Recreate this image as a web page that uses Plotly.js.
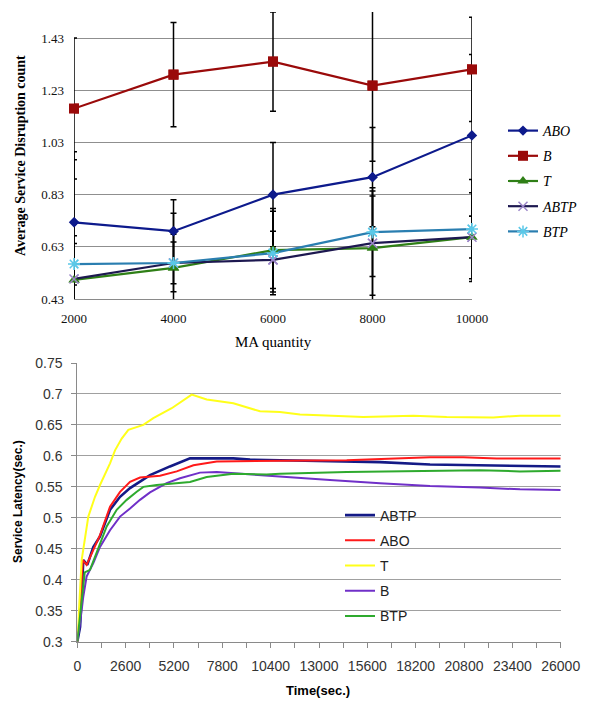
<!DOCTYPE html>
<html>
<head>
<meta charset="utf-8">
<script src="https://cdn.plot.ly/plotly-3.0.1.min.js"></script>
<style>
html,body{margin:0;padding:0;background:#fff;}
#chart{width:592px;height:703px;}
</style>
</head>
<body>
<div id="chart"></div>
<script>
// ---------- Top chart data ----------
const maQuantity = [2000, 4000, 6000, 8000, 10000];
const topNames = ['ABO', 'B', 'T', 'ABTP', 'BTP'];
const aboDisruption  = [0.724, 0.690, 0.830, 0.897, 1.057];
const bDisruption    = [1.160, 1.290, 1.340, 1.248, 1.310];
const tDisruption    = [0.503, 0.549, 0.617, 0.625, 0.667];
const abtpDisruption = [0.507, 0.568, 0.580, 0.644, 0.667];
const btpDisruption  = [0.564, 0.568, 0.606, 0.686, 0.698];
const aboErr  = [0.24, 0.12, 0.20, 0.19, 0.31];
const bErr    = [0.27, 0.20, 0.19, 0.29, 0.20];
const tErr    = [0.14, 0.21, 0.16, 0.20, 0.17];
const abtpErr = [0.165, 0.08, 0.11, 0.20, 0.08];
const btpErr  = [0.43, 0.11, 0.16, 0.17, 0.19];
const topYTicks = ['0.43', '0.63', '0.83', '1.03', '1.23', '1.43'];

// ---------- Bottom chart data ----------
const bottomXLabels = ['0','2600','5200','7800','10400','13000','15600','18200','20800','23400','26000'];
const bottomYTicks = ['0.3','0.35','0.4','0.45','0.5','0.55','0.6','0.65','0.7','0.75'];

const tTime = [0, 236, 592, 952, 1221, 1760, 2028, 2388, 2747, 3551, 4089, 5078, 6153, 6960, 8392, 9826, 10900, 11977, 12693, 15383, 18072, 19866, 22375, 23810, 26000];
const tLat  = [0.300, 0.432, 0.502, 0.534, 0.553, 0.588, 0.609, 0.628, 0.642, 0.650, 0.661, 0.677, 0.699, 0.691, 0.685, 0.672, 0.671, 0.667, 0.666, 0.663, 0.665, 0.663, 0.662, 0.665, 0.665];

const abtpTime = [0, 150, 323, 538, 861, 1221, 1760, 2298, 2836, 3373, 3910, 4985, 6061, 8392, 9290, 10900, 13590, 16280, 18970, 21660, 23451, 26000];
const abtpLat  = [0.300, 0.324, 0.432, 0.424, 0.453, 0.470, 0.513, 0.534, 0.548, 0.558, 0.569, 0.583, 0.596, 0.596, 0.594, 0.593, 0.592, 0.590, 0.586, 0.585, 0.584, 0.583];

const aboTime = [0, 150, 290, 500, 1221, 1760, 2298, 2836, 3373, 3910, 4447, 5347, 6245, 7500, 10000, 10900, 14490, 17180, 18970, 20762, 22555, 26000];
const aboLat  = [0.300, 0.350, 0.432, 0.424, 0.472, 0.518, 0.542, 0.558, 0.565, 0.567, 0.568, 0.575, 0.585, 0.591, 0.591, 0.592, 0.593, 0.596, 0.598, 0.598, 0.596, 0.596];

const btpTime = [0, 150, 400, 683, 1042, 1580, 2119, 2657, 3195, 3551, 4268, 5167, 6061, 6960, 8392, 10184, 10900, 14490, 18072, 21660, 23810, 26000];
const btpLat  = [0.300, 0.340, 0.412, 0.416, 0.443, 0.486, 0.513, 0.529, 0.542, 0.550, 0.553, 0.556, 0.558, 0.566, 0.571, 0.570, 0.571, 0.574, 0.5755, 0.577, 0.575, 0.576];

const bTime = [0, 150, 323, 500, 861, 1221, 1760, 2298, 2836, 3373, 3910, 4805, 5526, 6600, 7500, 8392, 10184, 10900, 13590, 16280, 18970, 21660, 23810, 26000];
const bLat  = [0.300, 0.330, 0.373, 0.405, 0.427, 0.453, 0.480, 0.502, 0.515, 0.529, 0.541, 0.556, 0.564, 0.573, 0.574, 0.572, 0.568, 0.566, 0.561, 0.556, 0.5515, 0.549, 0.546, 0.545];

// ---------- Build ----------
const W = 592, H = 703;
const px = x => x / W;
const py = y => 1 - y / H;

const serif = 'Liberation Serif';
const sans = 'Liberation Sans';

function errBar(arr) {
  return {type: 'data', array: arr, visible: true, color: '#000', thickness: 1.5, width: 3};
}

const topSpecs = [
  {name: 'ABO', y: aboDisruption, e: aboErr, line: '#0D1A8C', marker: {symbol: 'diamond', size: 8, color: '#0D1A8C'}},
  {name: 'B', y: bDisruption, e: bErr, line: '#9A0A0A', marker: {symbol: 'square', size: 10, color: '#9A0A0A'}},
  {name: 'T', y: tDisruption, e: tErr, line: '#2F7F16', marker: {symbol: 'triangle-up', size: 10, color: '#2F7F16'}},
  {name: 'ABTP', y: abtpDisruption, e: abtpErr, line: '#1D1850', marker: {symbol: 'x-thin', size: 9, color: '#9B85C8', line: {color: '#9B85C8', width: 1.5}}},
  {name: 'BTP', y: btpDisruption, e: btpErr, line: '#2A7EB0', marker: {symbol: 'asterisk', size: 10, color: '#5BC8E8', line: {color: '#5BC8E8', width: 1.5}}}
];

const traces = [];
// lines + error bars (clipped to the plot area)
topSpecs.forEach((s, i) => traces.push({
  type: 'scatter', mode: 'lines+markers', name: '<i>' + s.name + '</i>',
  x: maQuantity, y: s.y, xaxis: 'x', yaxis: 'y',
  line: {color: s.line, width: 2.2},
  marker: s.marker,
  error_y: errBar(s.e),
  cliponaxis: true,
  legend: 'legend', legendgroup: 'top' + i
}));
// markers overlay (not clipped at the plot edges)
topSpecs.forEach((s, i) => traces.push({
  type: 'scatter', mode: 'markers', name: s.name,
  x: maQuantity, y: s.y, xaxis: 'x', yaxis: 'y',
  marker: s.marker, cliponaxis: false, showlegend: false,
  legend: 'legend', legendgroup: 'top' + i
}));

const bottomSpecs = [
  {name: 'ABTP', x: abtpTime, y: abtpLat, color: '#141A86', width: 2.6},
  {name: 'ABO', x: aboTime, y: aboLat, color: '#FF1A1A', width: 2},
  {name: 'T', x: tTime, y: tLat, color: '#FFFF1A', width: 2},
  {name: 'B', x: bTime, y: bLat, color: '#7030C8', width: 2},
  {name: 'BTP', x: btpTime, y: btpLat, color: '#2EAA2E', width: 2}
];
bottomSpecs.forEach((s, i) => traces.push({
  type: 'scatter', mode: 'lines', name: s.name,
  x: s.x, y: s.y, xaxis: 'x2', yaxis: 'y2',
  line: {color: s.color, width: s.width},
  legend: 'legend2', legendgroup: 'bot' + i
}));

const bottomTickVals = [];
const bottomTickText = [];
bottomXLabels.forEach((lab, i) => {
  const v = Number(lab);
  bottomTickVals.push(v); bottomTickText.push(lab);
  if (i < bottomXLabels.length - 1) {
    const nxt = Number(bottomXLabels[i + 1]);
    bottomTickVals.push((v + nxt) / 2); bottomTickText.push('');
  }
});

const layout = {
  width: W, height: H,
  margin: {l: 0, r: 0, t: 0, b: 0},
  paper_bgcolor: '#fff', plot_bgcolor: '#fff',
  showlegend: true,
  xaxis: {
    domain: [px(74), px(472)], range: [2000, 10000], anchor: 'y',
    tickvals: maQuantity, ticktext: maQuantity.map(String),
    showgrid: false, zeroline: false,
    showline: true, linecolor: '#8a8a8a', linewidth: 1,
    ticks: '', ticklabelstandoff: 7,
    tickfont: {family: serif, size: 13, color: '#111'}
  },
  yaxis: {
    domain: [py(299), py(12)], range: [0.43, 1.53], anchor: 'x',
    tickvals: topYTicks.map(Number), ticktext: topYTicks,
    showgrid: true, gridcolor: '#8f8f8f', gridwidth: 1,
    zeroline: false, showline: false,
    ticks: '', ticklabelstandoff: 9,
    tickfont: {family: serif, size: 13, color: '#111'}
  },
  xaxis2: {
    domain: [px(77.3), px(560.7)], range: [0, 26000], anchor: 'y2',
    tickvals: bottomTickVals, ticktext: bottomTickText,
    showgrid: false, zeroline: false,
    showline: true, linecolor: '#8a8a8a', linewidth: 1,
    ticks: 'outside', ticklen: 5, tickcolor: '#8a8a8a', tickwidth: 1,
    ticklabelstandoff: 6,
    tickfont: {family: sans, size: 14, color: '#333'}
  },
  yaxis2: {
    domain: [py(641.7), py(363)], range: [0.3, 0.75], anchor: 'x2',
    tickvals: bottomYTicks.map(Number), ticktext: bottomYTicks,
    showgrid: true, gridcolor: '#a0a0a0', gridwidth: 1,
    zeroline: false,
    showline: true, linecolor: '#8a8a8a', linewidth: 1,
    ticks: 'outside', ticklen: 5, tickcolor: '#8a8a8a', tickwidth: 1,
    ticklabelstandoff: 6,
    tickfont: {family: sans, size: 14, color: '#333'}
  },
  legend: {
    x: px(503), y: py(115), xanchor: 'left', yanchor: 'top',
    bgcolor: 'rgba(0,0,0,0)', borderwidth: 0,
    tracegroupgap: 4,
    font: {family: serif, size: 14, color: '#000'}
  },
  legend2: {
    x: px(340), y: py(499.5), xanchor: 'left', yanchor: 'top',
    bgcolor: 'rgba(0,0,0,0)', borderwidth: 0,
    tracegroupgap: 4,
    font: {family: sans, size: 14, color: '#222'}
  },
  annotations: [
    {text: '<b>Average Service Disruption count</b>', xref: 'paper', yref: 'paper',
     x: px(20), y: py(156), xanchor: 'center', yanchor: 'middle', textangle: -90, showarrow: false,
     font: {family: serif, size: 14, color: '#000'}},
    {text: 'MA quantity', xref: 'paper', yref: 'paper',
     x: px(273), y: py(342), xanchor: 'center', yanchor: 'middle', showarrow: false,
     font: {family: serif, size: 15, color: '#000'}},
    {text: '<b>Service Latency(sec.)</b>', xref: 'paper', yref: 'paper',
     x: px(18), y: py(502), xanchor: 'center', yanchor: 'middle', textangle: -90, showarrow: false,
     font: {family: sans, size: 12, color: '#000'}},
    {text: '<b>Time(sec.)</b>', xref: 'paper', yref: 'paper',
     x: px(318), y: py(690), xanchor: 'center', yanchor: 'middle', showarrow: false,
     font: {family: sans, size: 13, color: '#000'}}
  ]
};

Plotly.newPlot('chart', traces, layout, {displayModeBar: false, staticPlot: true});
</script>
</body>
</html>
